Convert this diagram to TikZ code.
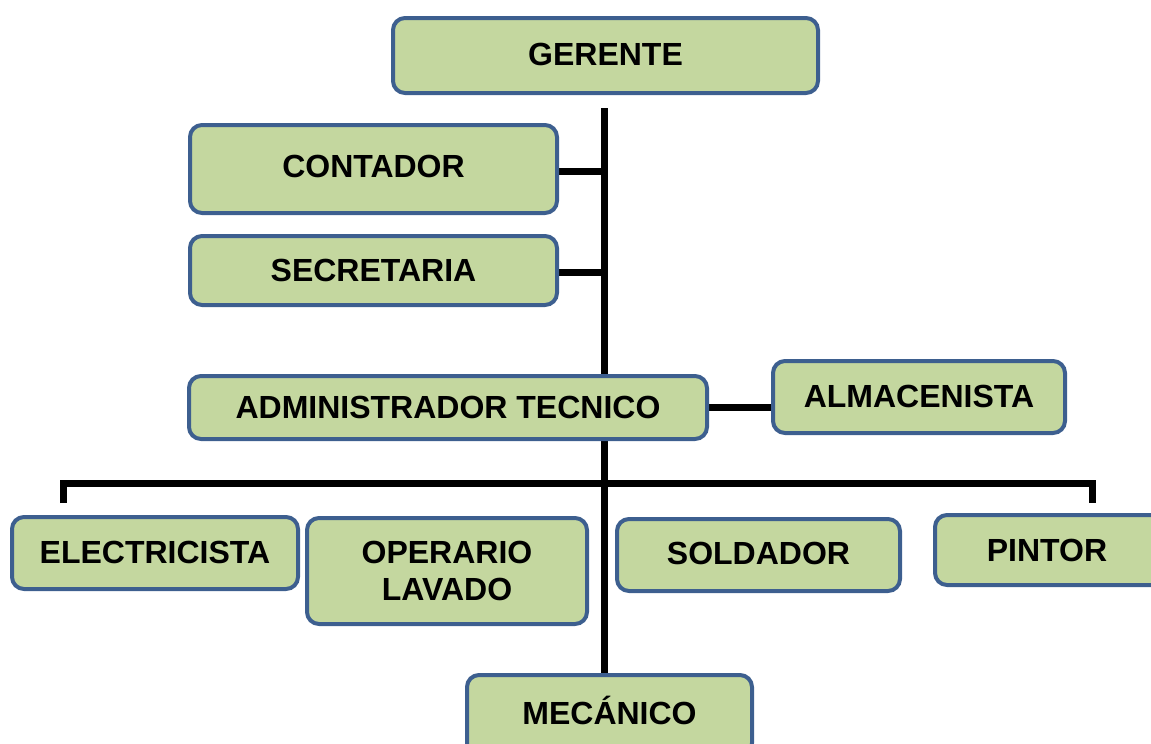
\documentclass[tikz,border=0pt]{standalone}
\usepackage{fontspec}
\setmainfont{Liberation Sans}
\usetikzlibrary{backgrounds}
\begin{document}
\begin{tikzpicture}[x=1pt,y=-1pt,
  orgbox/.style={draw=boxblue, fill=boxgreen, line width=4pt, rounded corners=12pt,
    inner sep=0pt, align=center, font=\fontsize{32}{37}\selectfont\bfseries},
  link/.style={draw=black, line width=7pt}]
\definecolor{boxblue}{HTML}{3D5F8F}
\definecolor{boxgreen}{HTML}{C4D79F}
\useasboundingbox (0,0) rectangle (1151,744);
% boxes
\node[orgbox, minimum width=425pt, minimum height=75pt] (ger) at (605.5,55.5) {\raisebox{2pt}{GERENTE}};
\node[orgbox, minimum width=367pt, minimum height=88pt] (con) at (373.5,169) {\raisebox{5pt}{CONTADOR}};
\node[orgbox, minimum width=367pt, minimum height=69pt] (sec) at (373.5,270.5) {SECRETARIA};
\node[orgbox, minimum width=518pt, minimum height=63pt] (adm) at (448,407.5) {ADMINISTRADOR TECNICO};
\node[orgbox, minimum width=292pt, minimum height=72pt] (alm) at (919,397) {\raisebox{1pt}{ALMACENISTA}};
\node[orgbox, minimum width=286pt, minimum height=72pt] (ele) at (155,553) {\raisebox{2pt}{ELECTRICISTA}};
\node[orgbox, minimum width=280pt, minimum height=106pt] (ope) at (447,571) {OPERARIO\\LAVADO};
\node[orgbox, minimum width=283pt, minimum height=72pt] (sol) at (758.5,555) {\raisebox{3pt}{SOLDADOR}};
\node[orgbox, minimum width=300pt, minimum height=70pt] (pin) at (1085,550) {\hspace*{-76pt}PINTOR};
\node[orgbox, minimum width=285pt, minimum height=80pt] (mec) at (609.5,715) {\raisebox{9pt}{MECÁNICO}};
% connectors
\coordinate (t0) at (604,108);
\coordinate (bh) at (604,483);
\coordinate (bl) at (63,503);
\coordinate (br) at (1092,503);
\coordinate (cy) at (0,171);
\coordinate (sy) at (0,272);
\begin{scope}[on background layer]
\draw[link] (t0) -- (t0 |- mec.north);
\draw[link] (con.east |- cy) -- (t0 |- cy);
\draw[link] (sec.east |- sy) -- (t0 |- sy);
\draw[link] (adm.east) -- (alm.west |- adm.east);
\draw[link, line join=miter] (bl) |- (bh) -| (br);
\end{scope}
\end{tikzpicture}
\end{document}
